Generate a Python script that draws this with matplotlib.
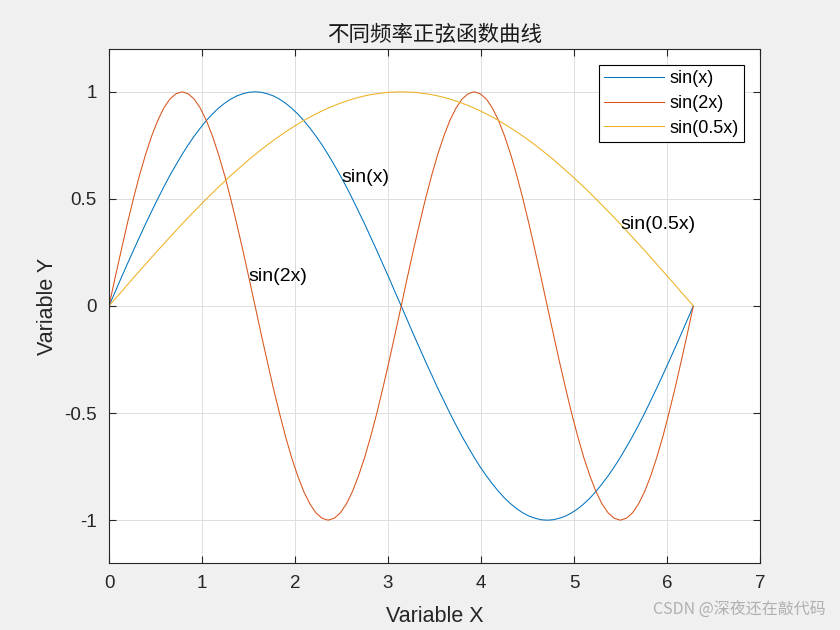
import matplotlib
matplotlib.use('Agg')
import matplotlib.pyplot as plt

plt.rcParams['font.family'] = ['Liberation Sans', 'Noto Sans CJK SC', 'DejaVu Sans']

# x sampled every pi/48 over [0, 2*pi]
x_vals = [0.000, 0.065, 0.131, 0.196, 0.262, 0.327, 0.393, 0.458, 0.524, 0.589,
          0.654, 0.720, 0.785, 0.851, 0.916, 0.982, 1.047, 1.113, 1.178, 1.244,
          1.309, 1.374, 1.440, 1.505, 1.571, 1.636, 1.702, 1.767, 1.833, 1.898,
          1.963, 2.029, 2.094, 2.160, 2.225, 2.291, 2.356, 2.422, 2.487, 2.553,
          2.618, 2.683, 2.749, 2.814, 2.880, 2.945, 3.011, 3.076, 3.142, 3.207,
          3.272, 3.338, 3.403, 3.469, 3.534, 3.600, 3.665, 3.731, 3.796, 3.862,
          3.927, 3.992, 4.058, 4.123, 4.189, 4.254, 4.320, 4.385, 4.451, 4.516,
          4.581, 4.647, 4.712, 4.778, 4.843, 4.909, 4.974, 5.040, 5.105, 5.171,
          5.236, 5.301, 5.367, 5.432, 5.498, 5.563, 5.629, 5.694, 5.760, 5.825,
          5.890, 5.956, 6.021, 6.087, 6.152, 6.218, 6.283]

sin_x = [0.000, 0.065, 0.131, 0.195, 0.259, 0.321, 0.383, 0.442, 0.500, 0.556,
         0.609, 0.659, 0.707, 0.752, 0.793, 0.831, 0.866, 0.897, 0.924, 0.947,
         0.966, 0.981, 0.991, 0.998, 1.000, 0.998, 0.991, 0.981, 0.966, 0.947,
         0.924, 0.897, 0.866, 0.831, 0.793, 0.752, 0.707, 0.659, 0.609, 0.556,
         0.500, 0.442, 0.383, 0.321, 0.259, 0.195, 0.131, 0.065, 0.000,
         -0.065, -0.131, -0.195, -0.259, -0.321, -0.383, -0.442, -0.500, -0.556,
         -0.609, -0.659, -0.707, -0.752, -0.793, -0.831, -0.866, -0.897, -0.924, -0.947,
         -0.966, -0.981, -0.991, -0.998, -1.000, -0.998, -0.991, -0.981, -0.966, -0.947,
         -0.924, -0.897, -0.866, -0.831, -0.793, -0.752, -0.707, -0.659, -0.609, -0.556,
         -0.500, -0.442, -0.383, -0.321, -0.259, -0.195, -0.131, -0.065, 0.000]

sin_2x = [0.000, 0.131, 0.259, 0.383, 0.500, 0.609, 0.707, 0.793, 0.866, 0.924,
          0.966, 0.991, 1.000, 0.991, 0.966, 0.924, 0.866, 0.793, 0.707, 0.609,
          0.500, 0.383, 0.259, 0.131, 0.000,
          -0.131, -0.259, -0.383, -0.500, -0.609, -0.707, -0.793, -0.866, -0.924,
          -0.966, -0.991, -1.000, -0.991, -0.966, -0.924, -0.866, -0.793, -0.707, -0.609,
          -0.500, -0.383, -0.259, -0.131, 0.000,
          0.131, 0.259, 0.383, 0.500, 0.609, 0.707, 0.793, 0.866, 0.924,
          0.966, 0.991, 1.000, 0.991, 0.966, 0.924, 0.866, 0.793, 0.707, 0.609,
          0.500, 0.383, 0.259, 0.131, 0.000,
          -0.131, -0.259, -0.383, -0.500, -0.609, -0.707, -0.793, -0.866, -0.924,
          -0.966, -0.991, -1.000, -0.991, -0.966, -0.924, -0.866, -0.793, -0.707, -0.609,
          -0.500, -0.383, -0.259, -0.131, 0.000]

sin_half_x = [0.000, 0.033, 0.065, 0.098, 0.131, 0.163, 0.195, 0.227, 0.259, 0.290,
              0.321, 0.352, 0.383, 0.413, 0.442, 0.471, 0.500, 0.528, 0.556, 0.582,
              0.609, 0.634, 0.659, 0.684, 0.707, 0.730, 0.752, 0.773, 0.793, 0.813,
              0.831, 0.849, 0.866, 0.882, 0.897, 0.911, 0.924, 0.936, 0.947, 0.957,
              0.966, 0.974, 0.981, 0.987, 0.991, 0.995, 0.998, 0.999, 1.000,
              0.999, 0.998, 0.995, 0.991, 0.987, 0.981, 0.974, 0.966,
              0.957, 0.947, 0.936, 0.924, 0.911, 0.897, 0.882, 0.866, 0.849, 0.831,
              0.813, 0.793, 0.773, 0.752, 0.730, 0.707, 0.684, 0.659, 0.634, 0.609,
              0.582, 0.556, 0.528, 0.500, 0.471, 0.442, 0.413, 0.383, 0.352, 0.321,
              0.290, 0.259, 0.227, 0.195, 0.163, 0.131, 0.098, 0.065, 0.033, 0.000]

series_labels = ['sin(x)', 'sin(2x)', 'sin(0.5x)']
series_colors = ['#0072BD', '#D95319', '#EDB120']

# in-plot annotations
note_text = ['sin(x)', 'sin(2x)', 'sin(0.5x)']
note_x = [2.5, 1.5, 5.5]
note_y = [0.60, 0.14, 0.38]

x_ticks = [0, 1, 2, 3, 4, 5, 6, 7]
y_ticks = [-1, -0.5, 0, 0.5, 1]
y_tick_labels = ['-1', '-0.5', '0', '0.5', '1']

fig = plt.figure(figsize=(8.4, 6.3), dpi=100, facecolor='#f0f0f0')
ax = fig.add_axes([109/840, 1 - 563/630, (760-109)/840, (563-49)/630])
ax.set_facecolor('white')

for ys, lab, c in zip([sin_x, sin_2x, sin_half_x], series_labels, series_colors):
    ax.plot(x_vals, ys, color=c, linewidth=0.75, label=lab)

for t, tx, ty in zip(note_text, note_x, note_y):
    ax.text(tx, ty, t, fontsize=14, va='center', ha='left', color='black')

ax.set_xlim(0, 7)
ax.set_ylim(-1.2, 1.2)
ax.set_xticks(x_ticks)
ax.set_yticks(y_ticks)
ax.set_yticklabels(y_tick_labels)
ax.tick_params(direction='in', length=5, width=0.8, top=True, right=True,
               labelsize=13.5, colors='#262626', pad=9)
ax.grid(True, color='#dedede', linewidth=0.7)
ax.set_axisbelow(True)
for s in ax.spines.values():
    s.set_linewidth(0.8)
    s.set_color('#262626')

ax.set_xlabel('Variable X', fontsize=15.5, color='#262626', labelpad=10)
ax.set_ylabel('Variable Y', fontsize=15.5, color='#262626', labelpad=4)
ax.set_title('不同频率正弦函数曲线', fontsize=15.5, color='#1a1a1a', pad=6,
             family=['Noto Sans CJK SC', 'DejaVu Sans'])

leg = ax.legend(loc='upper right', bbox_to_anchor=(744/840, 1 - 65/630),
                bbox_transform=fig.transFigure, fontsize=13, frameon=True,
                fancybox=False, edgecolor='black', framealpha=1,
                handlelength=3.3, handletextpad=0.3, borderpad=0.3,
                labelspacing=0.42, borderaxespad=0)
leg.get_frame().set_linewidth(0.8)

fig.text(826/840, 1 - 610/630, 'CSDN @深夜还在敲代码', fontsize=11.5, color='#b0b0b0',
         ha='right', va='center', family=['Noto Sans CJK SC', 'DejaVu Sans'])

plt.savefig('out.png', dpi=100, facecolor=fig.get_facecolor())
